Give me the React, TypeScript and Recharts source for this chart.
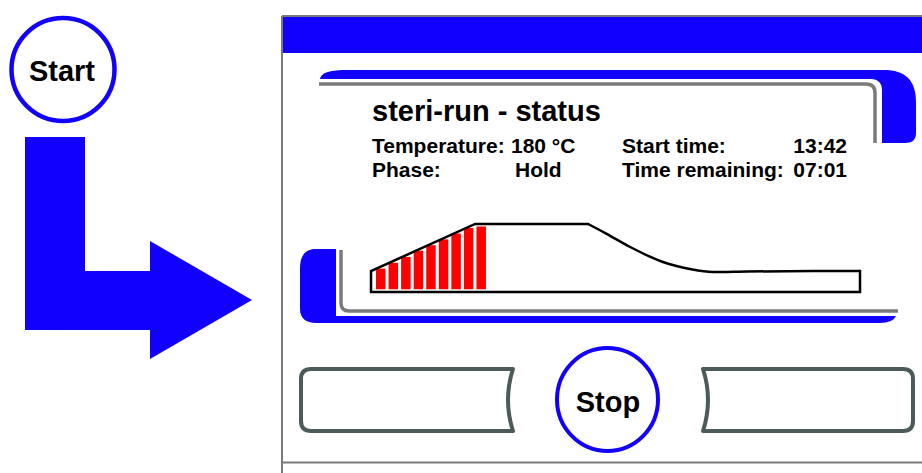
import React from "react";
import { ComposedChart, BarChart, Bar, Line, XAxis, YAxis } from "recharts";

const BLUE = "#1200ff";
const GRAY = "#7a7a7a";
const BTN = "#4b5a5a";
const FONT = "'Liberation Sans', Arial, sans-serif";

// profile box: ramp + plateau and the base, drawn straight (time 0..100, temp 0..100)
const boxTime = [44.4, 21.3, 0, 0, 100, 100];
const boxTemp = [87.2, 87.2, 26.9, 0, 0, 26.9];

// cool-down part of the profile, drawn smooth
const coolTime = [44.4, 47.9, 53.0, 59.7, 65.2, 69.9, 76.9, 90.4, 100];
const coolTemp = [87.2, 75.6, 57.7, 38.5, 29.5, 25.6, 26.3, 26.9, 26.9];

// heating segments shown in red
const heatSteps = ["1", "2", "3", "4", "5", "6", "7", "8", "9"];
const heatTop = [30, 37.5, 45, 53, 60, 67.5, 75, 82, 84];
const heatBase = 3.5;

const statusRows = [
  { label: "Temperature:", value: "180 °C", label2: "Start time:", value2: "13:42" },
  { label: "Phase:", value: "Hold", label2: "Time remaining:", value2: "07:01" },
];

const boxData = boxTime.map((t, i) => ({ t, temp: boxTemp[i] }));
const coolData = coolTime.map((t, i) => ({ t, temp: coolTemp[i] }));
const heatData = heatSteps.map((s, i) => ({ step: s, heat: [heatBase, heatTop[i]] }));

function Backdrop() {
  return (
    <svg width={922} height={473} style={{ position: "absolute", left: 0, top: 0 }}>
      <rect x={0} y={0} width={922} height={473} fill="#fff" />
      {/* start + arrow */}
      <circle cx={63} cy={69.5} r={51.5} fill="#fff" stroke={BLUE} strokeWidth={4.5} />
      <text x={62} y={81} textAnchor="middle" fontFamily={FONT} fontWeight="bold" fontSize={29}>
        Start
      </text>
      <polygon points="25,137 85,137 85,271 150,271 150,241 252,300 150,359 150,330 25,330" fill={BLUE} />

      {/* panel frame */}
      <line x1={282} y1={16} x2={922} y2={16} stroke={GRAY} strokeWidth={2} />
      <line x1={282} y1={16} x2={282} y2={473} stroke={GRAY} strokeWidth={2} />
      <rect x={283} y={17} width={639} height={36} fill={BLUE} />
      <line x1={282} y1={462.5} x2={922} y2={462.5} stroke={GRAY} strokeWidth={2} />

      {/* status header */}
      <path
        d="M320 79 C322 72 330 70 348 70 L884 70 C905 70 916 80 916 102 L916 133 C916 140 912 143 905 143 L882 143 L882 90 C882 83 878 79 871 79 Z"
        fill={BLUE}
      />
      <path d="M319 84 L866 84 Q875 84 875 93 L875 143" fill="none" stroke={GRAY} strokeWidth={3.5} />
      <text x={372} y={121} fontFamily={FONT} fontWeight="bold" fontSize={29}>
        steri-run - status
      </text>
      {statusRows.map((r, i) => (
        <g key={r.label} fontFamily={FONT} fontWeight="bold" fontSize={21}>
          <text x={372} y={153 + i * 24}>{r.label}</text>
          <text x={i === 0 ? 511 : 515} y={153 + i * 24}>{r.value}</text>
          <text x={622} y={153 + i * 24}>{r.label2}</text>
          <text x={847} y={153 + i * 24} textAnchor="end">{r.value2}</text>
        </g>
      ))}

      {/* profile frame */}
      <path
        d="M336 249 L316 249 C305 249 300 256 300 268 L300 309 C300 318 306 323 316 323 L880 323 Q893 323 896 316 L336 316 Z"
        fill={BLUE}
      />
      <path d="M341 250 L341 303 Q341 311 349 311 L898 311" fill="none" stroke={GRAY} strokeWidth={3.5} />

      {/* buttons */}
      <path
        d="M311 369 L513 369 Q503 400 513 431 L311 431 Q301 431 301 421 L301 379 Q301 369 311 369 Z"
        fill="#fff"
        stroke={BTN}
        strokeWidth={4}
        strokeLinejoin="round"
      />
      <path
        d="M703 369 L903 369 Q913 369 913 379 L913 421 Q913 431 903 431 L703 431 Q713 400 703 369 Z"
        fill="#fff"
        stroke={BTN}
        strokeWidth={4}
        strokeLinejoin="round"
      />
      <ellipse cx={607.5} cy={399.5} rx={50.5} ry={51.5} fill="#fff" stroke={BLUE} strokeWidth={4} />
      <text x={608} y={412} textAnchor="middle" fontFamily={FONT} fontWeight="bold" fontSize={29}>
        Stop
      </text>
    </svg>
  );
}

export default function App() {
  return (
    <div style={{ position: "absolute", left: 0, top: 0, width: 922, height: 473, background: "#fff" }}>
      <Backdrop />
      <div style={{ position: "absolute", left: 374, top: 209 }}>
        <BarChart width={113} height={88} data={heatData} margin={{ top: 5, right: 0, bottom: 5, left: 0 }}>
          <XAxis dataKey="step" hide />
          <YAxis domain={[0, 100]} hide />
          <Bar dataKey="heat" fill="#ff0000" barSize={9.5} isAnimationActive={false} />
        </BarChart>
      </div>
      <div style={{ position: "absolute", left: 366, top: 209 }}>
        <ComposedChart width={499} height={88} margin={{ top: 5, right: 5, bottom: 5, left: 5 }}>
          <XAxis dataKey="t" type="number" domain={[0, 100]} hide />
          <YAxis domain={[0, 100]} hide />
          <Line
            data={boxData}
            dataKey="temp"
            type="linear"
            stroke="#000"
            strokeWidth={2.5}
            strokeLinecap="round"
            strokeLinejoin="miter"
            dot={false}
            activeDot={false}
            isAnimationActive={false}
          />
          <Line
            data={coolData}
            dataKey="temp"
            type="monotone"
            stroke="#000"
            strokeWidth={2.5}
            strokeLinecap="round"
            dot={false}
            activeDot={false}
            isAnimationActive={false}
          />
        </ComposedChart>
      </div>
    </div>
  );
}
